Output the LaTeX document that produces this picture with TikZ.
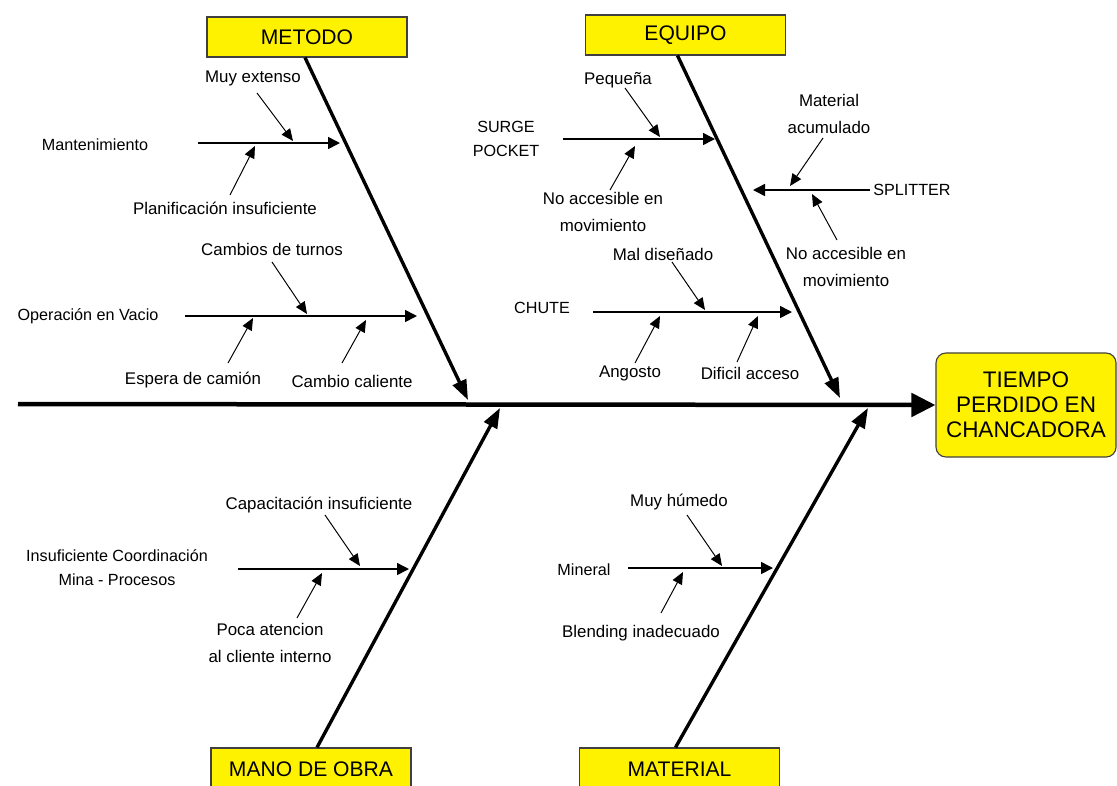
\documentclass[tikz,border=0pt]{standalone}
\usepackage{fontspec}
\setmainfont{Liberation Sans}
\usetikzlibrary{arrows.meta,calc}

\begin{document}
\begin{tikzpicture}
[x=0.025cm, y=-0.025cm, draw=black, line width=1pt,
cat/.style={rectangle, draw=black!75, fill=yellow, line width=0.8pt, inner sep=0pt, minimum width=5cm, minimum height=1cm, font=\fontsize{15}{17}\selectfont},
effect/.style={rectangle, rounded corners=2.5mm, draw=black!75, fill=yellow, line width=0.8pt, inner sep=0pt, minimum width=4.5cm, minimum height=2.6cm, align=center, font=\fontsize{16}{17.8}\selectfont},
cause/.style={inner sep=1pt, align=center, font=\fontsize{11.5}{17}\selectfont},
subc/.style={inner sep=1pt, align=center, font=\fontsize{12}{19.5}\selectfont},
spine/.style={line width=3.2pt, -{Triangle[length=6mm,width=5.8mm]}},
bone/.style={line width=2.4pt, -{Triangle[length=5mm,width=3.6mm]}},
branch/.style={line width=1.1pt, -{Triangle[length=3mm,width=3mm]}},
twig/.style={line width=0.7pt, -{Triangle[length=3mm,width=2.6mm]}}]

\useasboundingbox (0,0) rectangle (1117,785);
\clip (0,0) rectangle (1117,785);

% head and spine
\node[effect] (res) at (1026,405) {TIEMPO\\PERDIDO EN\\CHANCADORA};
\coordinate (tail) at (18,404);
\draw[spine] (tail) -- (res.west);

% categories
\node[cat] (metodo) at (307,37) {METODO};
\node[cat] (equipo) at (685.5,35) {EQUIPO};
\node[cat, minimum height=1.05cm] (mano) at (311,769) {MANO DE OBRA};
\node[cat, minimum height=1.05cm] (material) at (679.5,769) {MATERIAL};

\coordinate (metodotip) at (468,400);
\coordinate (equipotip) at (840,398);
\coordinate (manotip) at (500,408);
\coordinate (materialtip) at (868,408);

\draw[bone] ($(metodo.south)+(-2,0)$) -- (metodotip);
\draw[bone] ($(equipo.south)+(-8,0)$) -- (equipotip);
\draw[bone] ($(mano.north)+(6,0)$) -- (manotip);
\draw[bone] ($(material.north)+(-4,0)$) -- (materialtip);

% METODO
\node[cause] (mant) at (95,145) {Mantenimiento};
\coordinate (mant0) at (198,143);
\coordinate (mant1) at (340,143);
\draw[branch] (mant0) -- (mant1);
\node[subc] (muyext) at (253,78) {Muy extenso};
\coordinate (muyext0) at (257,93);
\coordinate (muyext1) at (293,141);
\draw[twig] (muyext0) -- (muyext1);
\node[subc] (planif) at (225,208) {Planificación insuficiente};
\coordinate (planif0) at (230,195);
\coordinate (planif1) at (255,146);
\draw[twig] (planif0) -- (planif1);

\node[cause] (opvacio) at (88,316) {Operación en Vacio};
\coordinate (opvacio0) at (185,316);
\coordinate (opvacio1) at (417,316);
\draw[branch] (opvacio0) -- (opvacio1);
\node[subc] (turnos) at (272,249) {Cambios de turnos};
\coordinate (turnos0) at (272,262);
\coordinate (turnos1) at (307,314);
\draw[twig] (turnos0) -- (turnos1);
\node[subc] (espera) at (193,380) {Espera de camión};
\coordinate (espera0) at (228,363);
\coordinate (espera1) at (253,318);
\draw[twig] (espera0) -- (espera1);
\node[subc] (caliente) at (352,381) {Cambio caliente};
\coordinate (caliente0) at (342,363);
\coordinate (caliente1) at (366,320);
\draw[twig] (caliente0) -- (caliente1);

% EQUIPO
\node[cause, font=\fontsize{11.5}{16.5}\selectfont] (surge) at (506,139) {SURGE\\POCKET};
\coordinate (surge0) at (563,139);
\coordinate (surge1) at (715,139);
\draw[branch] (surge0) -- (surge1);
\node[subc] (pequena) at (618,80) {Pequeña};
\coordinate (pequena0) at (625,88);
\coordinate (pequena1) at (660,137);
\draw[twig] (pequena0) -- (pequena1);
\node[subc] (noacc1) at (603,212) {No accesible en\\movimiento};
\coordinate (noacc10) at (610,190);
\coordinate (noacc11) at (635,146);
\draw[twig] (noacc10) -- (noacc11);

\node[cause] (splitter) at (912,190) {SPLITTER};
\coordinate (splitter0) at (870,190);
\coordinate (splitter1) at (753,190);
\draw[branch] (splitter0) -- (splitter1);
\node[subc] (acum) at (829,114) {Material\\acumulado};
\coordinate (acum0) at (823,138);
\coordinate (acum1) at (790,186);
\draw[twig] (acum0) -- (acum1);
\node[subc] (noacc2) at (846,267) {No accesible en\\movimiento};
\coordinate (noacc20) at (837,240);
\coordinate (noacc21) at (812,194);
\draw[twig] (noacc20) -- (noacc21);

\node[cause] (chute) at (542,308) {CHUTE};
\coordinate (chute0) at (593,312);
\coordinate (chute1) at (792,312);
\draw[branch] (chute0) -- (chute1);
\node[subc] (maldis) at (663,254) {Mal diseñado};
\coordinate (maldis0) at (672,262);
\coordinate (maldis1) at (705,310);
\draw[twig] (maldis0) -- (maldis1);
\node[subc] (angosto) at (630,373) {Angosto};
\coordinate (angosto0) at (635,363);
\coordinate (angosto1) at (660,316);
\draw[twig] (angosto0) -- (angosto1);
\node[subc] (dificil) at (750,373) {Dificil acceso};
\coordinate (dificil0) at (737,362);
\coordinate (dificil1) at (758,316);
\draw[twig] (dificil0) -- (dificil1);

% MANO DE OBRA
\node[cause] (coord) at (117,568) {Insuficiente Coordinación\\Mina - Procesos};
\coordinate (coord0) at (238,569);
\coordinate (coord1) at (409,569);
\draw[branch] (coord0) -- (coord1);
\node[subc] (capac) at (319,505) {Capacitación insuficiente};
\coordinate (capac0) at (325,515);
\coordinate (capac1) at (360,566);
\draw[twig] (capac0) -- (capac1);
\node[subc] (poca) at (270,643) {Poca atencion\\al cliente interno};
\coordinate (poca0) at (297,618);
\coordinate (poca1) at (322,573);
\draw[twig] (poca0) -- (poca1);

% MATERIAL
\node[cause] (mineral) at (584,570) {Mineral};
\coordinate (mineral0) at (628,568);
\coordinate (mineral1) at (773,568);
\draw[branch] (mineral0) -- (mineral1);
\node[subc] (humedo) at (679,502) {Muy húmedo};
\coordinate (humedo0) at (687,515);
\coordinate (humedo1) at (722,566);
\draw[twig] (humedo0) -- (humedo1);
\node[subc] (blending) at (641,633) {Blending inadecuado};
\coordinate (blending0) at (661,613);
\coordinate (blending1) at (683,572);
\draw[twig] (blending0) -- (blending1);
\end{tikzpicture}
\end{document}
